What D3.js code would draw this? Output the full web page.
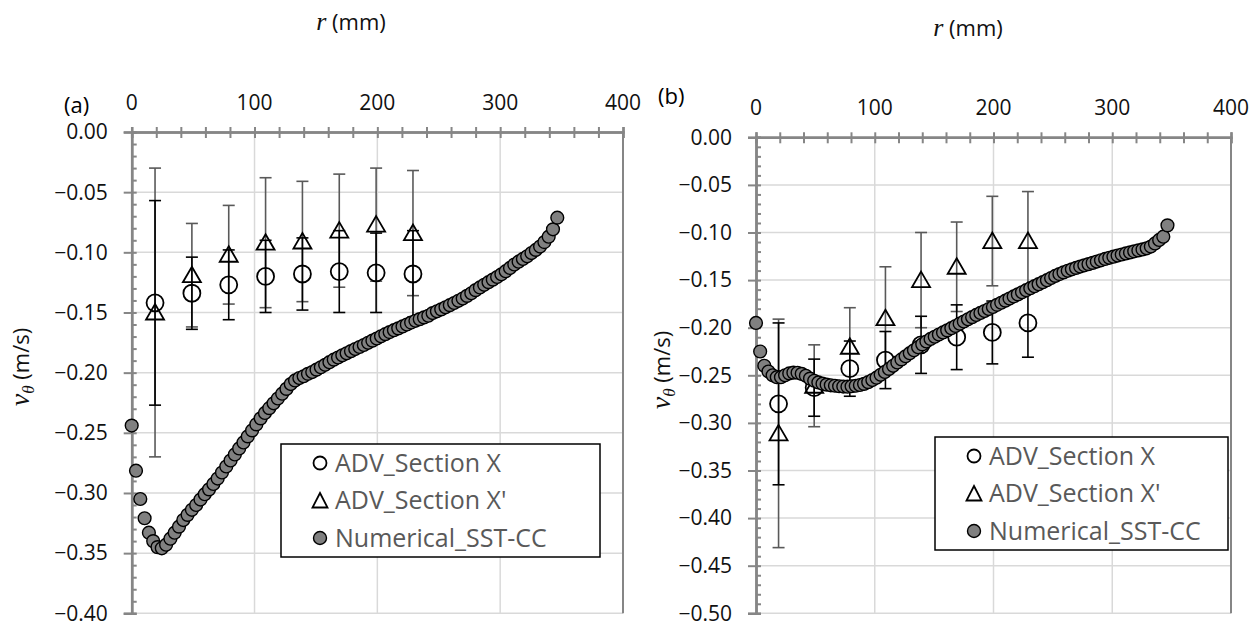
<!DOCTYPE html>
<html>
<head>
<meta charset="utf-8">
<script src="https://cdn.jsdelivr.net/npm/d3@7"></script>
<style>
  body { margin: 0; background: #fff; }
  text { font-family: 'Open Sans', sans-serif; }
</style>
</head>
<body>
<div id="chart"></div>
<script>
// Data
const xTicks = [0, 100, 200, 300, 400];
const yTicksA = [0, -0.05, -0.10, -0.15, -0.20, -0.25, -0.30, -0.35, -0.40];
const yTicksB = [0, -0.05, -0.10, -0.15, -0.20, -0.25, -0.30, -0.35, -0.40, -0.45, -0.50];
const legendNames = ['ADV_Section X', "ADV_Section X'", 'Numerical_SST-CC'];

// ADV measurement positions (mm) and error bar half widths (m/s)
const advR = [19, 49, 79, 109, 139, 169, 199, 229];
const secXErr = [0.085, 0.030, 0.029, 0.030, 0.030, 0.034, 0.033, 0.036];
const secXpErr = [0.120, 0.043, 0.041, 0.054, 0.050, 0.047, 0.047, 0.052];

// panel (a)
const secXA = [-0.142, -0.134, -0.127, -0.120, -0.118, -0.116, -0.117, -0.118];
const secXpA = [-0.150, -0.119, -0.102, -0.092, -0.091, -0.082, -0.077, -0.084];
// panel (b)
const secXB = [-0.280, -0.263, -0.243, -0.234, -0.218, -0.210, -0.205, -0.195];
const secXpB = [-0.311, -0.261, -0.220, -0.190, -0.150, -0.136, -0.109, -0.109];

// numerical profile
const numR = [0, 3.5, 7, 10.5, 14, 17.5, 21, 24.5, 28, 31.5, 35, 38.5, 42, 45.5, 49, 52.5, 56, 59.5, 63, 66.5,
  70, 73.5, 77, 80.5, 84, 87.5, 91, 94.5, 98, 101.5, 105, 108.5, 112, 115.5, 119, 122.5, 126, 129.5, 133, 136.5,
  140, 143.5, 147, 150.5, 154, 157.5, 161, 164.5, 168, 171.5, 175, 178.5, 182, 185.5, 189, 192.5, 196, 199.5, 203, 206.5,
  210, 213.5, 217, 220.5, 224, 227.5, 231, 234.5, 238, 241.5, 245, 248.5, 252, 255.5, 259, 262.5, 266, 269.5, 273, 276.5,
  280, 283.5, 287, 290.5, 294, 297.5, 301, 304.5, 308, 311.5, 315, 318.5, 322, 325.5, 329, 332.5, 336, 339.5, 343, 346.5];
const numA = [-0.244, -0.2815, -0.305, -0.321, -0.333, -0.340, -0.345, -0.346, -0.343, -0.338,
  -0.333, -0.328, -0.3225, -0.3182, -0.314, -0.310, -0.3055, -0.301, -0.297, -0.2925,
  -0.288, -0.283, -0.278, -0.273, -0.268, -0.263, -0.258, -0.253, -0.248, -0.243,
  -0.238, -0.2335, -0.2295, -0.2255, -0.2215, -0.2175, -0.2135, -0.2095, -0.2065, -0.2045,
  -0.203, -0.201, -0.1995, -0.1975, -0.1955, -0.1935, -0.1913, -0.1892, -0.1874, -0.1856,
  -0.1839, -0.1821, -0.1804, -0.1787, -0.177, -0.1752, -0.1734, -0.1716, -0.1698, -0.168,
  -0.1663, -0.1647, -0.1632, -0.1616, -0.16, -0.1584, -0.1569, -0.1555, -0.1541, -0.1527,
  -0.1505, -0.149, -0.1474, -0.1457, -0.1439, -0.1421, -0.1403, -0.1384, -0.1362, -0.134,
  -0.1314, -0.1292, -0.127, -0.1248, -0.1227, -0.1205, -0.1183, -0.1157, -0.113, -0.1101,
  -0.1078, -0.1055, -0.1033, -0.1006, -0.098, -0.0952, -0.0915, -0.087, -0.0809, -0.0712];
const numB = [-0.195, -0.225, -0.240, -0.246, -0.250, -0.252, -0.252, -0.250, -0.248, -0.2472,
  -0.2473, -0.2485, -0.2505, -0.2535, -0.2557, -0.2575, -0.2588, -0.2598, -0.2605, -0.261,
  -0.2615, -0.2618, -0.262, -0.2615, -0.261, -0.2602, -0.259, -0.2572, -0.255, -0.2525,
  -0.2495, -0.2465, -0.2433, -0.24, -0.2365, -0.2333, -0.23, -0.2268, -0.2237, -0.2205,
  -0.2175, -0.2145, -0.2118, -0.2095, -0.2072, -0.205, -0.2028, -0.2005, -0.1982, -0.1958,
  -0.1935, -0.1912, -0.1889, -0.1866, -0.1845, -0.1825, -0.1804, -0.1782, -0.176, -0.1738,
  -0.1716, -0.1694, -0.1672, -0.165, -0.1628, -0.1606, -0.1585, -0.1564, -0.1543, -0.1522,
  -0.1501, -0.1478, -0.1456, -0.1437, -0.1419, -0.1402, -0.1387, -0.1372, -0.1358, -0.1345,
  -0.1332, -0.1319, -0.1305, -0.1292, -0.1278, -0.1266, -0.1254, -0.1242, -0.1231, -0.122,
  -0.1209, -0.1198, -0.1188, -0.1178, -0.1166, -0.1148, -0.1115, -0.1078, -0.1044, -0.0925];

const svg = d3.select('#chart')
  .append('svg')
  .attr('width', 1260)
  .attr('height', 627);

const triPath = 'M0,-8.5L9,7L-9,7Z';

function drawPanel(p) {
  const xScale = d3.scaleLinear().domain([0, 400]).range([p.x0, p.x1]);
  const yScale = d3.scaleLinear().domain([0, p.yMin]).range([p.y0, p.y1]);
  const g = svg.append('g');

  // gridlines
  g.selectAll('.vg').data([100, 200, 300]).join('line')
    .attr('x1', d => xScale(d)).attr('x2', d => xScale(d))
    .attr('y1', p.y0).attr('y2', p.y1)
    .attr('stroke', '#d9d9d9').attr('stroke-width', 1.5);
  g.selectAll('.hg').data(p.yTicks.slice(1)).join('line')
    .attr('x1', p.x0).attr('x2', p.x1)
    .attr('y1', d => yScale(d)).attr('y2', d => yScale(d))
    .attr('stroke', '#d9d9d9').attr('stroke-width', 1.5);

  // right border
  g.append('line')
    .attr('x1', xScale(400)).attr('x2', xScale(400))
    .attr('y1', p.y0).attr('y2', p.y1)
    .attr('stroke', '#868686').attr('stroke-width', 2);

  // x axis (top), ticks crossing the line
  const xAxis = d3.axisTop(xScale)
    .tickValues(d3.range(0, 401, 20))
    .tickSize(5).tickFormat('');
  g.append('g').attr('transform', `translate(0,${p.y0})`).call(xAxis);
  g.append('g').attr('transform', `translate(0,${p.y0})`)
    .call(d3.axisBottom(xScale).tickValues(d3.range(0, 401, 20)).tickSize(6).tickFormat(''));

  g.selectAll('.xl').data(xTicks).join('text')
    .attr('x', d => xScale(d)).attr('y', p.y0 - 22)
    .attr('text-anchor', 'middle')
    .attr('font-size', 21).attr('fill', '#111')
    .text(d => d);

  // y axis (left)
  const minor = d3.range(0, Math.round(-p.yMin * 100) + 1).map(i => -i / 100);
  g.append('g').attr('transform', `translate(${p.x0},0)`)
    .call(d3.axisRight(yScale).tickValues(minor).tickSize(5).tickFormat(''));
  g.append('g').attr('transform', `translate(${p.x0},0)`)
    .call(d3.axisLeft(yScale).tickValues(p.yTicks).tickSize(8).tickFormat(''));
  g.selectAll('.yl').data(p.yTicks).join('text')
    .attr('x', p.x0 - 24).attr('y', d => yScale(d))
    .attr('dy', '0.35em')
    .attr('text-anchor', 'end')
    .attr('font-size', 21).attr('fill', '#111')
    .text(d => d3.format('.2f')(d));

  g.selectAll('.domain, .tick line')
    .attr('stroke', '#868686').attr('stroke-width', 2);
  g.selectAll('.domain').attr('stroke-width', 2.5);

  // error bars
  function errBars(vals, errs, color) {
    const eb = g.append('g').attr('stroke', color).attr('stroke-width', 1.6);
    advR.forEach((r, i) => {
      const x = xScale(r);
      const yt = yScale(vals[i] + errs[i]);
      const yb = yScale(vals[i] - errs[i]);
      eb.append('line').attr('x1', x).attr('x2', x).attr('y1', yt).attr('y2', yb);
      eb.append('line').attr('x1', x - 6).attr('x2', x + 6).attr('y1', yt).attr('y2', yt);
      eb.append('line').attr('x1', x - 6).attr('x2', x + 6).attr('y1', yb).attr('y2', yb);
    });
  }
  errBars(p.secXp, secXpErr, '#595959');
  errBars(p.secX, secXErr, '#000');

  g.selectAll('.cx').data(advR).join('circle')
    .attr('cx', d => xScale(d)).attr('cy', (d, i) => yScale(p.secX[i]))
    .attr('r', 8.5)
    .attr('fill', 'none').attr('stroke', '#000').attr('stroke-width', 1.8);
  g.selectAll('.tx').data(advR).join('path')
    .attr('d', triPath)
    .attr('transform', (d, i) => `translate(${xScale(d)},${yScale(p.secXp[i])})`)
    .attr('fill', 'none').attr('stroke', '#000').attr('stroke-width', 1.8);

  g.selectAll('.nm').data(numR).join('circle')
    .attr('cx', d => xScale(d)).attr('cy', (d, i) => yScale(p.num[i]))
    .attr('r', 6.4)
    .attr('fill', '#808080').attr('stroke', '#000').attr('stroke-width', 1.4);

  // legend
  const lg = g.append('g').attr('transform', `translate(${p.lx},${p.ly})`);
  lg.append('rect').attr('width', p.lw).attr('height', 113)
    .attr('fill', '#fff').attr('stroke', '#000').attr('stroke-width', 1.5);
  legendNames.forEach((name, i) => {
    const y = 19 + i * 37.5;
    if (i === 0) {
      lg.append('circle').attr('cx', 39).attr('cy', y).attr('r', 6.5)
        .attr('fill', 'none').attr('stroke', '#000').attr('stroke-width', 1.8);
    } else if (i === 1) {
      lg.append('path').attr('d', 'M0,-7.5L7.5,7L-7.5,7Z')
        .attr('transform', `translate(39,${y})`)
        .attr('fill', 'none').attr('stroke', '#000').attr('stroke-width', 1.8);
    } else {
      lg.append('circle').attr('cx', 39).attr('cy', y).attr('r', 6.5)
        .attr('fill', '#808080').attr('stroke', '#000').attr('stroke-width', 1.4);
    }
    lg.append('text').attr('x', 54).attr('y', y).attr('dy', '0.35em')
      .attr('font-size', 25).attr('fill', '#595959')
      .text(name);
  });

  // axis titles
  const xt = svg.append('text')
    .attr('x', p.tx).attr('y', p.ty)
    .attr('text-anchor', 'middle').attr('font-size', 22).attr('fill', '#111');
  xt.append('tspan').attr('font-family', "'Liberation Serif', serif")
    .attr('font-style', 'italic').attr('font-size', 26).text('r');
  xt.append('tspan').text(' (mm)');

  const yt = svg.append('text')
    .attr('transform', `translate(${p.yx},${p.yy}) rotate(-90)`)
    .attr('text-anchor', 'middle').attr('font-size', 22).attr('fill', '#111');
  yt.append('tspan').attr('font-family', "'Liberation Serif', serif")
    .attr('font-style', 'italic').attr('font-size', 28).text('v');
  yt.append('tspan').attr('font-family', "'Liberation Serif', serif")
    .attr('font-style', 'italic').attr('font-size', 17).attr('dy', 5).text('θ');
  yt.append('tspan').attr('dy', -5).text(' (m/s)');

  svg.append('text')
    .attr('x', p.px).attr('y', p.py)
    .attr('font-family', "'Liberation Serif', serif")
    .attr('font-size', 22).attr('fill', '#000')
    .text(p.label);
}

drawPanel({
  x0: 131.7, x1: 623, y0: 132, y1: 613.3, yMin: -0.40, yTicks: yTicksA,
  secX: secXA, secXp: secXpA, num: numA,
  lx: 281, ly: 444, lw: 319,
  tx: 351, ty: 30, yx: 29, yy: 367, px: 64, py: 113, label: '(a)'
});
drawPanel({
  x0: 756, x1: 1231, y0: 137.3, y1: 613.3, yMin: -0.50, yTicks: yTicksB,
  secX: secXB, secXp: secXpB, num: numB,
  lx: 935, ly: 437, lw: 293,
  tx: 968, ty: 36, yx: 670, yy: 370, px: 658, py: 104, label: '(b)'
});
</script>
</body>
</html>
